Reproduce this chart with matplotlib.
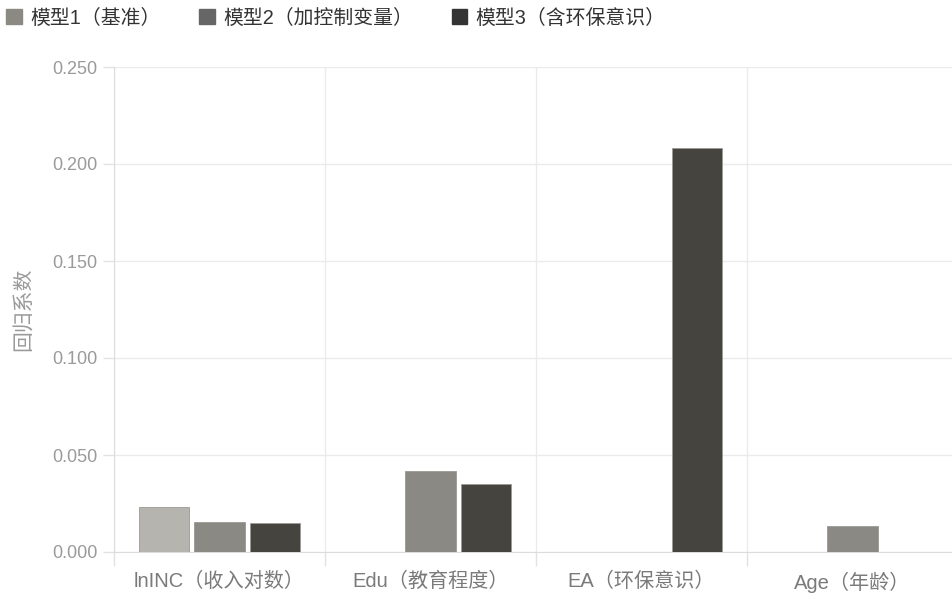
import numpy as np
import matplotlib
matplotlib.use('Agg')
import matplotlib.pyplot as plt
from matplotlib.patches import Patch

plt.rcParams['font.family'] = ['Liberation Sans', 'Noto Sans CJK SC', 'DejaVu Sans']

categories = ['lnINC（收入对数）', 'Edu（教育程度）', 'EA（环保意识）', 'Age（年龄）']
models = ['模型1（基准）', '模型2（加控制变量）', '模型3（含环保意识）']
model1 = [0.023, np.nan, np.nan, np.nan]
model2 = [0.0155, 0.042, np.nan, 0.0135]
model3 = [0.015, 0.035, 0.208, np.nan]
y_ticks = [0.0, 0.05, 0.10, 0.15, 0.20, 0.25]

bar_colors = ['#b6b4ae', '#8a8983', '#45443f']
legend_colors = ['#8a8a82', '#666666', '#333333']

W, H = 953, 596
fig = plt.figure(figsize=(W / 100, H / 100), dpi=100)
ax = fig.add_axes([114 / W, 1 - 552 / H, 844 / W, 485 / H])

x = np.arange(len(categories))
w = 0.237
off = 0.265
for i, vals in enumerate([model1, model2, model3]):
    ax.bar(x + (i - 1) * off, vals, width=w, color=bar_colors[i],
           edgecolor='#9a9993', linewidth=0.6, zorder=3)

ax.set_xlim(-0.5, 3.5)
ax.set_ylim(0, 0.25)
ax.set_yticks(y_ticks)
ax.set_yticklabels(['%.3f' % v for v in y_ticks], color='#9a9a9a', fontsize=13)
ax.set_xticks(x)
ax.set_xticklabels(categories, color='#7a7a7a', fontsize=14.5)
ax.set_xticks(np.arange(-0.5, 4, 1), minor=True)
ax.tick_params(axis='x', which='major', length=0, pad=14)
ax.tick_params(axis='x', which='minor', length=10, color='#e2e2e2', width=1)
ax.tick_params(axis='y', length=8, color='#e2e2e2', width=1, pad=4)

ax.grid(axis='y', color='#ebebeb', linewidth=1, zorder=0)
ax.grid(axis='x', which='minor', color='#ebebeb', linewidth=1, zorder=0)
for s in ['top', 'right']:
    ax.spines[s].set_visible(False)
ax.spines['left'].set_color('#dcdcdc')
ax.spines['bottom'].set_color('#dcdcdc')

ax.set_ylabel('回归系数', color='#9a9a9a', fontsize=15)
ax.yaxis.set_label_coords(-0.096, 0.5)

handles = [Patch(facecolor=c, edgecolor=c) for c in legend_colors]
fig.legend(handles, models, loc='center left', bbox_to_anchor=(6 / W, 1 - 18 / H), ncol=3,
           frameon=False, fontsize=14.3, handlelength=0.79, handleheight=0.79,
           handletextpad=0.42, columnspacing=1.95, labelcolor='#333333',
           borderpad=0, borderaxespad=0)

fig.savefig('out.png', dpi=100)
